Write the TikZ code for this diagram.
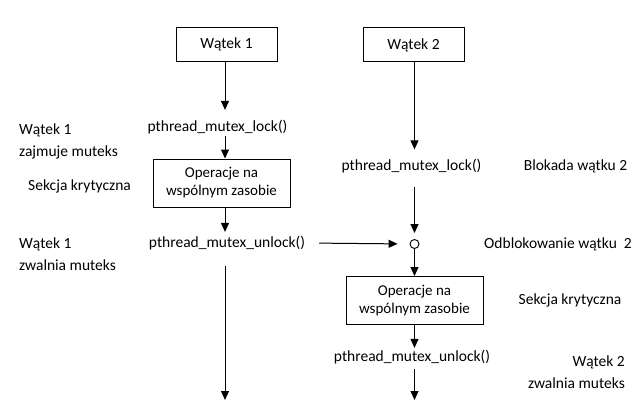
\documentclass[tikz,border=0pt]{standalone}
\usepackage{fontspec}
\setmainfont{Carlito}
\usetikzlibrary{positioning, arrows.meta}
\tikzset{
    thread/.style={draw, line width=1pt, minimum width=101pt, minimum height=34pt, font=\fontsize{15.5}{22}\selectfont},
    oper/.style={draw, line width=1pt, minimum width=137pt, minimum height=48pt, align=center, font=\fontsize{15}{18}\selectfont},
    call/.style={inner sep=2pt, font=\fontsize{15.5}{22}\selectfont},
    note/.style={inner sep=0pt, font=\fontsize{15.5}{22}\selectfont},
    gate/.style={circle, draw, line width=0.9pt, fill=white, minimum size=9pt, inner sep=0pt},
    flow/.style={line width=1pt, -{Triangle[length=9pt, width=8pt]}},
}
\begin{document}
\begin{tikzpicture}[x=1pt, y=-1pt]
    \useasboundingbox (0,0) rectangle (644,417);
    \tikzset{on grid}

    \coordinate (c1) at (225,0);
    \coordinate (c2) at (414.5,0);

    % watek 1
    \node[thread] (w1) at (226.5,44.5) {Wątek 1};
    \node[call, below=82.5pt of w1, xshift=-9pt] (lock1) {pthread\_mutex\_lock()};
    \node[oper, below=56pt of lock1, xshift=4pt] (op1) {Operacje na\\wspólnym zasobie};
    \node[call, below=60pt of op1, xshift=5.5pt] (unlock1) {pthread\_mutex\_unlock()};
    \coordinate (e1) at (225,400);

    % watek 2
    \node[thread] (w2) at (413.5,45) {Wątek 2};
    \node[call, below=121pt of w2, xshift=-2pt] (lock2) {pthread\_mutex\_lock()};
    \node[gate, below=78pt of lock2, xshift=3pt] (gate) {};
    \node[oper, below=56.5pt of gate] (op2) {Operacje na\\wspólnym zasobie};
    \node[call, below=56.5pt of op2, xshift=-2.5pt] (unlock2) {pthread\_mutex\_unlock()};
    \coordinate (e2) at (414.5,400);

    % opisy
    \node[note, anchor=west, align=left] (n1) at (19,141) {Wątek 1\\zajmuje muteks};
    \node[note] (n2) at (79.5,186) {Sekcja krytyczna};
    \node[note, anchor=west, align=left] (n3) at (19,254.5) {Wątek 1\\zwalnia muteks};
    \node[note] (n4) at (575.5,166) {Blokada wątku 2};
    \node[note] (n5) at (558,244) {Odblokowanie wątku\ \ 2};
    \node[note] (n6) at (570,300) {Sekcja krytyczna};
    \node[note, anchor=east, align=right] (n7) at (625,372.5) {Wątek 2\\zwalnia muteks};

    \draw[flow, shorten >=8pt] (w1.south -| c1) -- (lock1.north -| c1);
    \draw[flow] (lock1.south -| c1) -- (op1.north -| c1);
    \draw[flow, shorten >=2pt] (op1.south -| c1) -- (unlock1.north -| c1);
    \draw[flow, shorten <=14pt] (unlock1.south -| c1) -- (e1);
    \draw[flow, shorten <=12pt, shorten >=12pt] (unlock1.east) -- (gate.west);

    \draw[flow, shorten >=7.5pt] (w2.south -| c2) -- (lock2.north -| c2);
    \draw[flow, shorten <=12pt, shorten >=6pt] (lock2.south -| c2) -- (gate.north);
    \draw[flow] (gate.south) -- (op2.north -| c2);
    \draw[flow] (op2.south -| c2) -- (unlock2.north -| c2);
    \draw[flow, shorten <=3pt] (unlock2.south -| c2) -- (e2);
\end{tikzpicture}
\end{document}
